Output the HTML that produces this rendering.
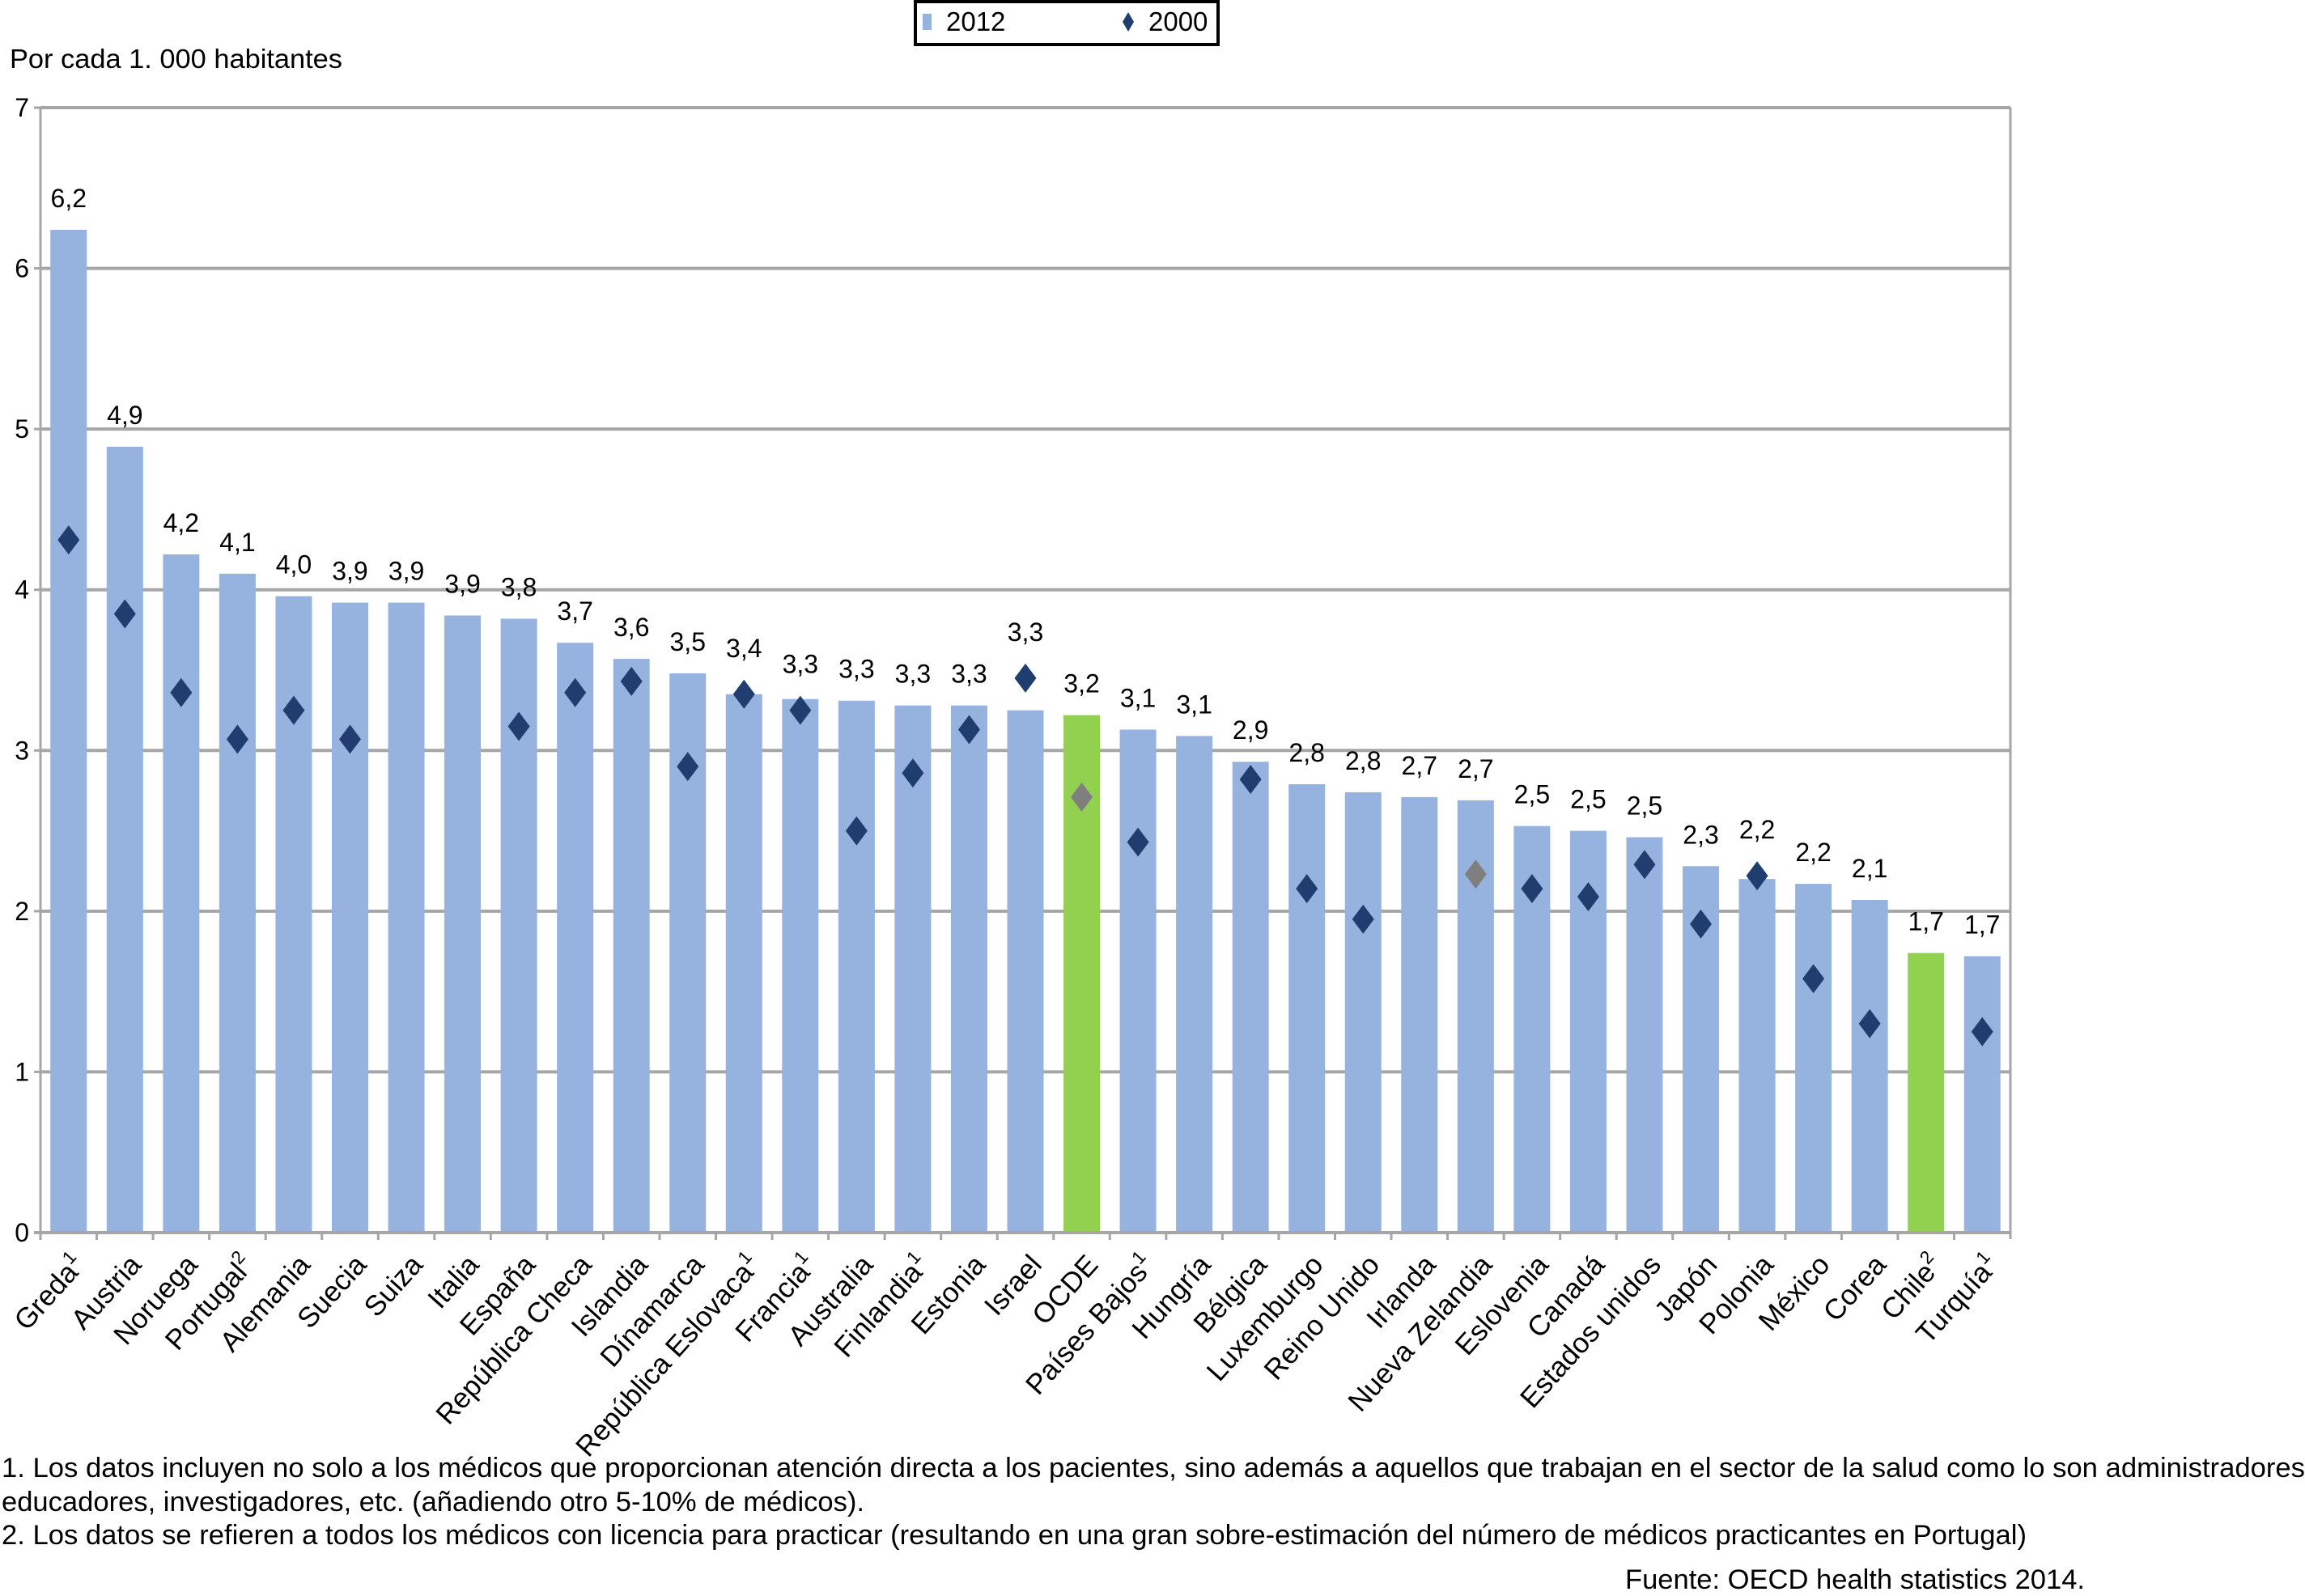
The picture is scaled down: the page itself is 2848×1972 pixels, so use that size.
<!DOCTYPE html>
<html><head><meta charset="utf-8"><style>
html,body{margin:0;padding:0;background:#fff;}
svg{display:block;font-family:"Liberation Sans",Arial,sans-serif;}
</style></head><body>
<svg id="chart" width="2848" height="1972" viewBox="0 0 2848 1972" xmlns="http://www.w3.org/2000/svg">
<g id="grid"></g>
<g id="bars"></g>
<g id="marks"></g>
<g id="vlabels"></g>
<g id="axes"></g>
<g id="xlabels"></g>
<text x="12" y="84" font-size="33" textLength="411" lengthAdjust="spacingAndGlyphs">Por cada 1. 000 habitantes</text>
<g>
<rect x="1131" y="2" width="374" height="53" fill="#fff" stroke="#000" stroke-width="4"/>
<rect x="1140" y="17" width="11" height="20" fill="#95b3de"/>
<text x="1169" y="38" font-size="33">2012</text>
<path d="M1394 15 L1401 27 L1394 39 L1387 27 Z" fill="#1f3d6e"/>
<text x="1419" y="38" font-size="33">2000</text>
</g>
<g font-size="34">
<text x="2" y="1825" textLength="2846" lengthAdjust="spacingAndGlyphs">1. Los datos incluyen no solo a los médicos que proporcionan atención directa a los pacientes, sino además a aquellos que trabajan en el sector de la salud como lo son administradores</text>
<text x="2" y="1867" textLength="1066" lengthAdjust="spacingAndGlyphs">educadores, investigadores, etc. (añadiendo otro 5-10% de médicos).</text>
<text x="2" y="1908" textLength="2502" lengthAdjust="spacingAndGlyphs">2. Los datos se refieren a todos los médicos con licencia para practicar (resultando en una gran sobre-estimación del número de médicos practicantes en Portugal)</text>
<text x="2008" y="1963" textLength="568" lengthAdjust="spacingAndGlyphs">Fuente: OECD health statistics 2014.</text>
</g>
</svg>
<script>
const categories = ["Greda","Austria","Noruega","Portugal","Alemania","Suecia","Suiza","Italia","España","República Checa","Islandia","Dínamarca","República Eslovaca","Francia","Australia","Finlandia","Estonia","Israel","OCDE","Países Bajos","Hungría","Bélgica","Luxemburgo","Reino Unido","Irlanda","Nueva Zelandia","Eslovenia","Canadá","Estados unidos","Japón","Polonia","México","Corea","Chile","Turquía"];
const footnoteMarks = ["1","","","2","","","","","","","","","1","1","","1","","","","1","","","","","","","","","","","","","","2","1"];
const values2012 = [6.24,4.89,4.22,4.10,3.96,3.92,3.92,3.84,3.82,3.67,3.57,3.48,3.35,3.32,3.31,3.28,3.28,3.25,3.22,3.13,3.09,2.93,2.79,2.74,2.71,2.69,2.53,2.50,2.46,2.28,2.20,2.17,2.07,1.74,1.72];
const labels2012 = ["6,2","4,9","4,2","4,1","4,0","3,9","3,9","3,9","3,8","3,7","3,6","3,5","3,4","3,3","3,3","3,3","3,3","3,3","3,2","3,1","3,1","2,9","2,8","2,8","2,7","2,7","2,5","2,5","2,5","2,3","2,2","2,2","2,1","1,7","1,7"];
const values2000 = [4.31,3.85,3.36,3.07,3.25,3.07,null,null,3.15,3.36,3.43,2.90,3.35,3.25,2.50,2.86,3.13,3.45,2.71,2.43,null,2.82,2.14,1.95,null,2.23,2.14,2.09,2.29,1.92,2.22,1.58,1.30,null,1.25];
const highlight = ["OCDE","Chile"];
const grayMarkers = ["OCDE","Nueva Zelandia"];
const yTicks = [0,1,2,3,4,5,6,7];

const NS="http://www.w3.org/2000/svg";
const X0=50, X1=2484, Y0=1523, Y7=133, YMAX=7;
const band=(X1-X0)/categories.length;
const barW=45;
function xScale(i){return X0+band*i;}
function yScale(v){return Y0-(Y0-Y7)*v/YMAX;}
function mk(tag,attrs,parent){const e=document.createElementNS(NS,tag);for(const k in attrs)e.setAttribute(k,attrs[k]);parent.appendChild(e);return e;}

const grid=document.getElementById('grid'), bars=document.getElementById('bars'), marks=document.getElementById('marks'), vl=document.getElementById('vlabels'), axes=document.getElementById('axes'), xl=document.getElementById('xlabels');

yTicks.forEach(t=>{
  const y=yScale(t);
  if(t>0){const g=mk('line',{x1:X0,x2:X1,y1:y,y2:y,stroke:'#a6a6a6','stroke-width':4},grid);
  
  }
  const tl=mk('line',{x1:X0-8,x2:X0,y1:y,y2:y,stroke:'#a6a6a6','stroke-width':3},axes);
  
  
  const tx=mk('text',{x:X0-14,y:y+11,'font-size':32,'text-anchor':'end'},axes);
  tx.textContent=t;
  
  
});
const ya=mk('line',{x1:X0,x2:X0,y1:Y7,y2:Y0,stroke:'#a6a6a6','stroke-width':3},axes);


const ra=mk('line',{x1:X1,x2:X1,y1:Y7,y2:Y0+8,stroke:'#a6a6a6','stroke-width':3},axes);


const xa=mk('line',{x1:X0-8,x2:X1,y1:Y0,y2:Y0,stroke:'#a6a6a6','stroke-width':4},axes);



categories.forEach((c,i)=>{
  const bx=xScale(i)+(band-barW)/2, cx=xScale(i)+band/2;
  const top=yScale(values2012[i]);
  const r=mk('rect',{x:bx,y:top,width:barW,height:Y0-top,fill:highlight.includes(c)?'#92d050':'#95b3de'},bars);
  
  
  let labTop=top;
  if(values2000[i]!==null){
    const my=yScale(values2000[i]);
    const d=mk('path',{d:`M${cx} ${my-18} L${cx+13.5} ${my} L${cx} ${my+18} L${cx-13.5} ${my} Z`,fill:grayMarkers.includes(c)?'#7f7f7f':'#1f3d6e'},marks);
    
    
    if(my-18<labTop)labTop=my-18;
  }
  const t=mk('text',{x:cx,y:labTop-28,'font-size':32,'text-anchor':'middle'},vl);
  t.textContent=labels2012[i];
  
  
  const tk=mk('line',{x1:xScale(i),x2:xScale(i),y1:Y0,y2:Y0+9,stroke:'#a6a6a6','stroke-width':3},axes);
  
  
  const lx=cx+22, ly=1564;
  const lt=mk('text',{x:lx,y:ly,'font-size':35,'text-anchor':'end',transform:`rotate(-48 ${lx} ${ly})`},xl);
  lt.textContent=c;
  if(footnoteMarks[i]){const s=mk('tspan',{'font-size':23,dy:-15},lt);s.textContent=footnoteMarks[i];}
  
  
});
</script>
</body></html>
